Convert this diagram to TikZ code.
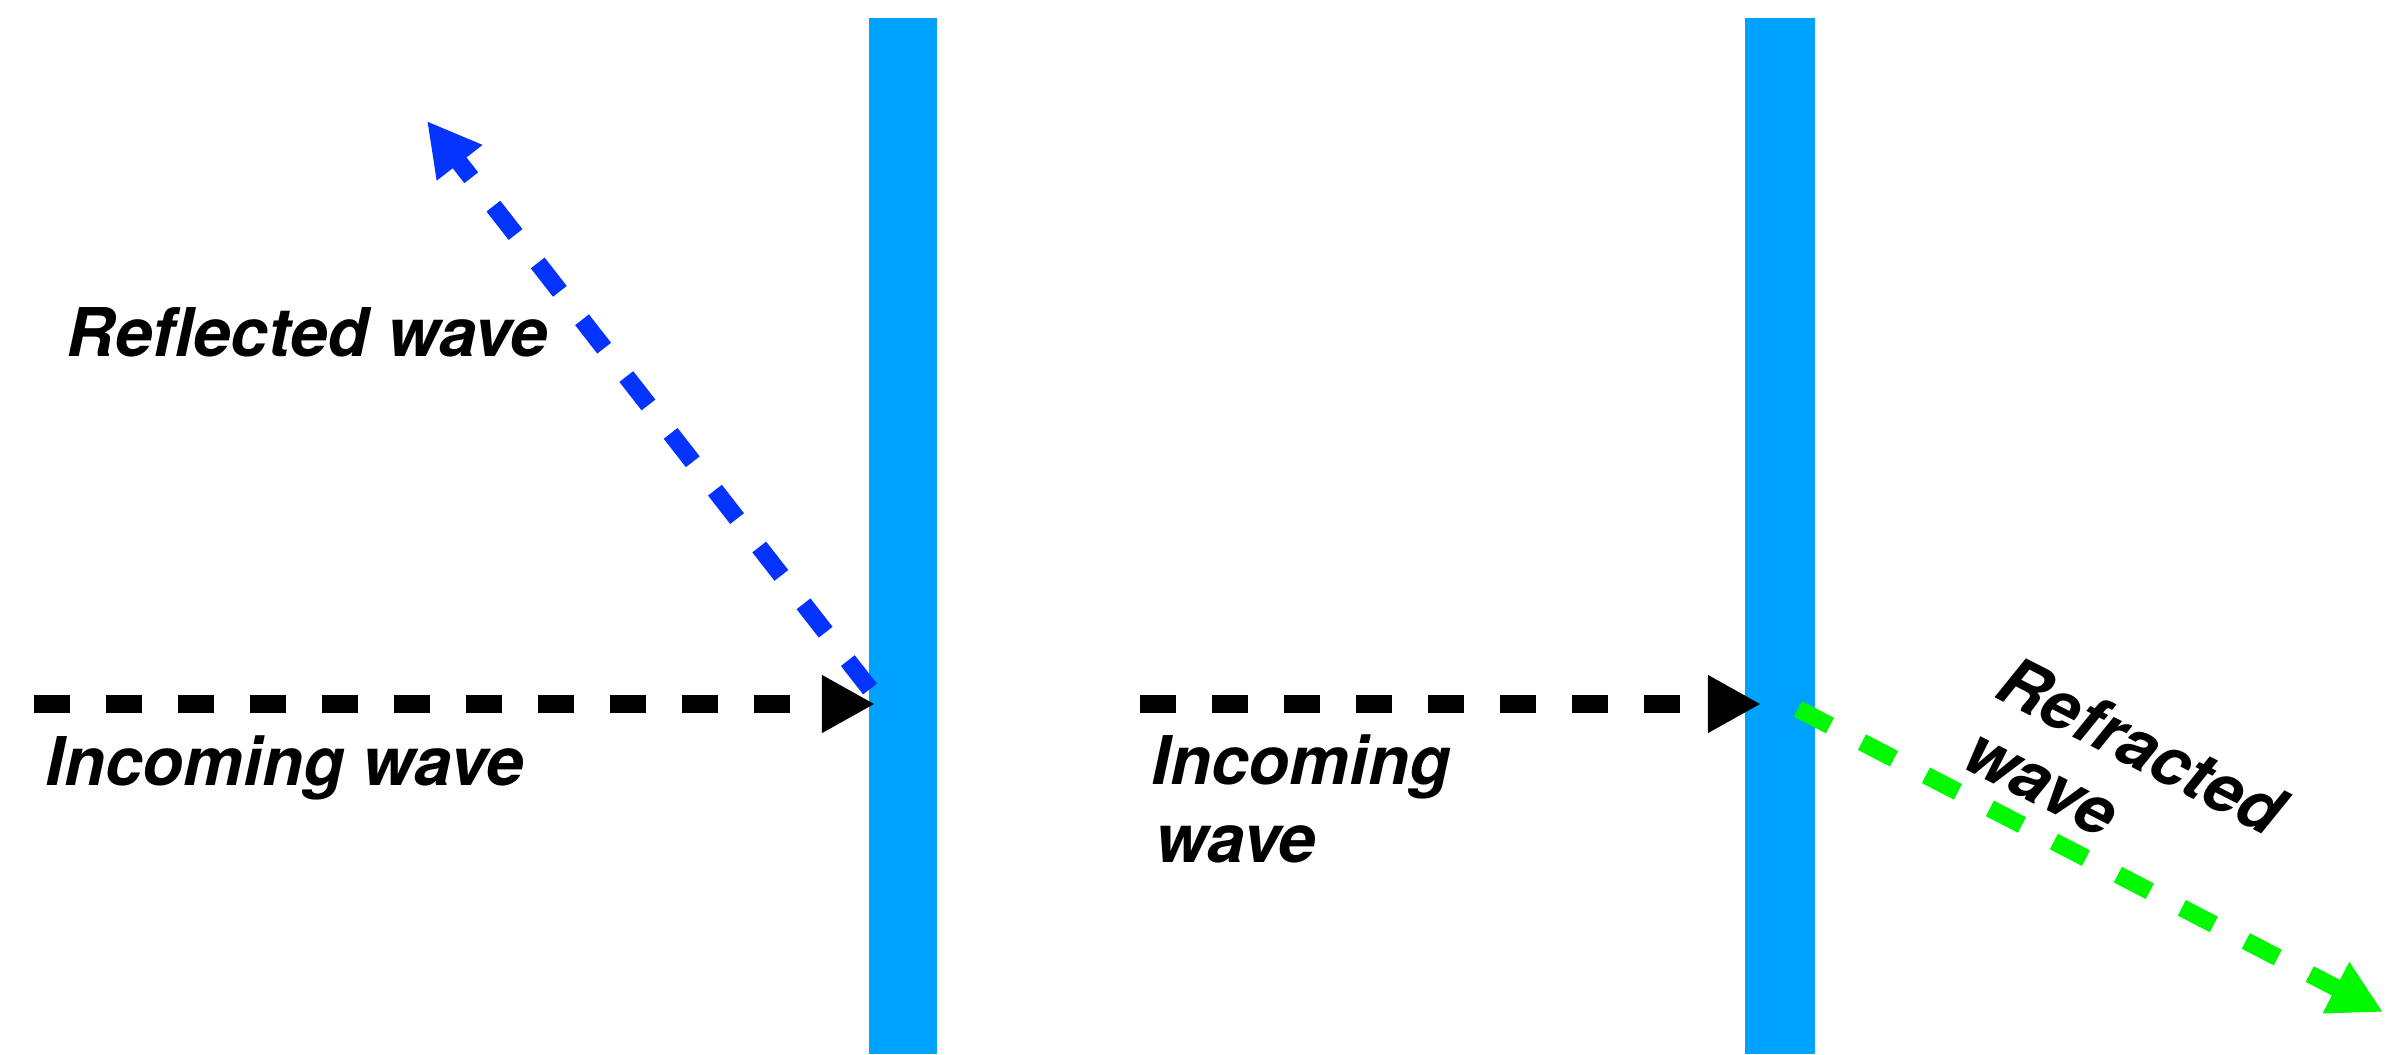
\documentclass[tikz,border=0pt]{standalone}
\usepackage{fontspec}
\setmainfont{TeX Gyre Heros}
\usetikzlibrary{arrows.meta}
\definecolor{barblue}{RGB}{0,162,255}
\definecolor{reflblue}{RGB}{4,51,255}
\definecolor{refrgreen}{RGB}{0,249,0}
\tikzset{
  wavearrow/.style={line width=0.175cm, dash pattern=on 0.36cm off 0.36cm,
    -{Triangle[length=0.53cm, width=0.54cm]}},
  lbl/.style={inner sep=0pt, anchor=base west,
    font=\fontsize{19.1}{22}\selectfont\bfseries\itshape},
  barfill/.style={fill=barblue}
}
\begin{document}
\begin{tikzpicture}[x=0.01cm, y=-0.01cm]
\useasboundingbox (0,0) rectangle (2402,1054);
\fill[white] (0,0) rectangle (2402,1054);
% bars
\fill[barfill] (869,18) rectangle (937,1054);
\fill[barfill] (1745,18) rectangle (1815,1054);
% coordinates
\coordinate (inLs) at (34,704);
\coordinate (hitL) at (875,704);
\coordinate (reflS) at (870,689);
\coordinate (reflT) at (427,121);
\coordinate (inRs) at (1140,704);
\coordinate (hitR) at (1761,704);
\coordinate (refrS) at (1798,709);
\coordinate (refrT) at (2383,1012);
% waves
\draw[wavearrow, black] (inLs) -- (hitL);
\draw[wavearrow, reflblue] (reflS) -- (reflT);
\draw[wavearrow, black] (inRs) -- (hitR);
\draw[wavearrow, refrgreen] (refrS) -- (refrT);
% labels
\node[lbl] (reflLbl) at (66,356) {Reflected wave};
\node[lbl] (inLLbl) at (45,785) {Incoming wave};
\node[lbl] (inRLbl1) at (1151,784) {Incoming};
\node[lbl] (inRLbl2) at (1155,862) {wave};
\node[lbl, rotate=-27] (refrLbl1) at (1992,696) {Refracted};
\node[lbl, rotate=-27] (refrLbl2) at (1959,766) {wave};
\end{tikzpicture}
\end{document}
